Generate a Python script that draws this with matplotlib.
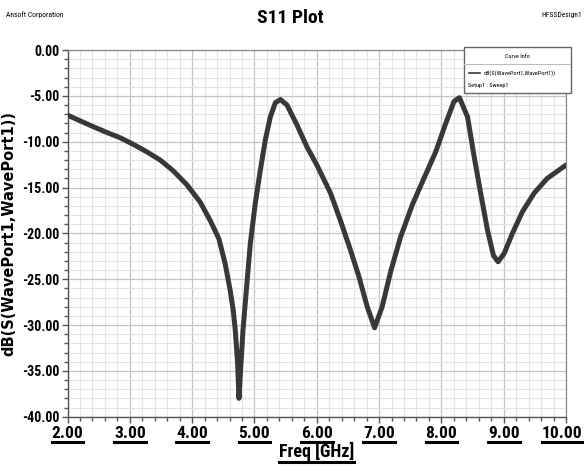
import numpy as np
import matplotlib
matplotlib.use('Agg')
import matplotlib.pyplot as plt
from matplotlib.lines import Line2D
from matplotlib.patches import Rectangle
from matplotlib.ticker import MultipleLocator
import matplotlib.transforms as mtransforms

# Values (GHz, dB)
freq = [2.00, 2.20, 2.415, 2.63, 2.844, 3.058, 3.27, 3.487, 3.70, 3.916, 4.13, 4.29, 4.43,
        4.53, 4.61, 4.66, 4.693, 4.73, 4.752, 4.784, 4.816, 4.87, 4.934, 5.014, 5.095,
        5.175, 5.255, 5.336, 5.416, 5.523, 5.684, 5.845, 6.006, 6.22, 6.38, 6.54, 6.676,
        6.81, 6.928, 7.05, 7.185, 7.345, 7.533, 7.72, 7.91, 8.07, 8.203, 8.29, 8.42,
        8.525, 8.63, 8.74, 8.835, 8.91, 9.007, 9.14, 9.30, 9.49, 9.70, 10.00]
s11 = [-7.1, -7.72, -8.37, -8.99, -9.57, -10.3, -11.1, -12.0, -13.2, -14.7, -16.6, -18.6, -20.6,
       -23.3, -26.2, -28.4, -30.6, -34.2, -38.0, -34.2, -30.6, -26.2, -21.1, -16.7, -13.1,
       -9.8, -7.3, -5.75, -5.4, -6.0, -8.2, -10.6, -12.6, -15.6, -18.6, -21.8, -24.7,
       -28.0, -30.3, -28.0, -24.2, -20.4, -16.9, -14.0, -11.1, -8.0, -5.6, -5.2, -7.3,
       -11.6, -15.6, -19.65, -22.4, -23.1, -22.2, -20.0, -17.65, -15.6, -14.0, -12.55]

xticks = [2, 3, 4, 5, 6, 7, 8, 9, 10]
xtick_labels = ['2.00', '3.00', '4.00', '5.00', '6.00', '7.00', '8.00', '9.00', '10.00']
yticks = [0, -5, -10, -15, -20, -25, -30, -35, -40]
ytick_labels = ['0.00', '-5.00', '-10.00', '-15.00', '-20.00', '-25.00', '-30.00', '-35.00', '-40.00']

narrow = ['Roboto Condensed', 'Liberation Sans Narrow', 'Roboto', 'DejaVu Sans']

W, H = 584, 471
fig = plt.figure(figsize=(W / 100, H / 100), dpi=100)
fig.patch.set_facecolor('white')

ax = fig.add_axes([67.5 / W, 1 - 416.7 / H, (566 - 67.5) / W, (416.7 - 50) / H])
ax.plot(freq, s11, color='#383838', lw=3.6, solid_capstyle='round', solid_joinstyle='round', zorder=3)

ax.set_xlim(2, 10)
ax.set_ylim(-40, 0)
ax.xaxis.set_minor_locator(MultipleLocator(0.2))
ax.yaxis.set_minor_locator(MultipleLocator(1))
ax.set_xticks(xticks)
ax.set_xticklabels(xtick_labels, family=narrow, fontweight='bold', fontsize=12.5, stretch='condensed')
ax.set_yticks(yticks)
ax.set_yticklabels(ytick_labels, family=narrow, fontweight='bold', fontsize=10, stretch='condensed')

ax.grid(which='minor', color='#e4e4e4', lw=0.8)
ax.grid(which='major', color='#c4c4c4', lw=0.9)
ax.set_axisbelow(True)
ax.tick_params(which='major', direction='out', length=4, width=1.0, color='#555555', pad=2)
ax.tick_params(which='minor', direction='out', length=3, width=1.0, color='#555555')
ax.tick_params(axis='x', which='major', pad=3)
for side in ['top', 'right']:
    ax.spines[side].set_color('#8a8a8a')
    ax.spines[side].set_linewidth(0.9)
for side in ['left', 'bottom']:
    ax.spines[side].set_color('#555555')
    ax.spines[side].set_linewidth(1.0)

ax.set_xlabel('Freq [GHz]', family=narrow, fontweight='bold', fontsize=13, stretch='condensed',
              labelpad=0)
ax.set_ylabel('dB(S(WavePort1,WavePort1))', family='DejaVu Sans', fontweight='bold',
              fontsize=10.5, labelpad=4)

fig.text(290 / W, 1 - 18 / H, 'S11 Plot', family=narrow, fontweight='bold', fontsize=14,
         stretch='condensed', ha='center', va='center')
fig.text(6 / W, 1 - 15 / H, 'Ansoft Corporation', family=narrow, fontsize=5.5,
         stretch='condensed', ha='left', va='center')
fig.text(582 / W, 1 - 15 / H, 'HFSSDesign1', family=narrow, fontsize=5.5,
         stretch='condensed', ha='right', va='center')

# "Curve Info" box
lg = fig.add_axes([464 / W, 1 - 93 / H, (571 - 464) / W, (93 - 47) / H])
lg.set_xlim(0, 1)
lg.set_ylim(0, 1)
lg.axis('off')
lg.add_patch(Rectangle((0, 0), 1, 1, transform=lg.transAxes, facecolor='white',
                       edgecolor='#666666', lw=1.0, clip_on=False))
lg.plot([0, 1], [0.63, 0.63], color='#bbbbbb', lw=0.8)
lg.text(0.5, 0.80, 'Curve Info', family=narrow, fontsize=4.5, stretch='condensed',
        ha='center', va='center')
lg.plot([0.05, 0.15], [0.44, 0.44], color='#383838', lw=1.2)
lg.text(0.18, 0.44, 'dB(S(WavePort1,WavePort1))', family=narrow, fontsize=4.5,
        stretch='condensed', ha='left', va='center')
lg.text(0.04, 0.16, 'Setup1 : Sweep1', family=narrow, fontsize=4.5, stretch='condensed',
        ha='left', va='center')

# keep the last x tick label inside the figure (reference has it flush right)
fig.canvas.draw()
renderer = fig.canvas.get_renderer()
last = ax.get_xticklabels()[-1]
overflow = last.get_window_extent(renderer).x1 - (W - 1.5)
if overflow > 0:
    last.set_transform(last.get_transform() +
                       mtransforms.ScaledTranslation(-overflow / 100, 0, fig.dpi_scale_trans))

# underline the x tick labels and the x label
fig.canvas.draw()
for t in ax.get_xticklabels() + [ax.xaxis.label]:
    bb = t.get_window_extent(renderer)
    y = bb.y0 - 1.0
    fig.add_artist(Line2D([bb.x0 / W, bb.x1 / W], [y / H, y / H], transform=fig.transFigure,
                          color='black', lw=2.2))

fig.savefig('out.png', dpi=100)
